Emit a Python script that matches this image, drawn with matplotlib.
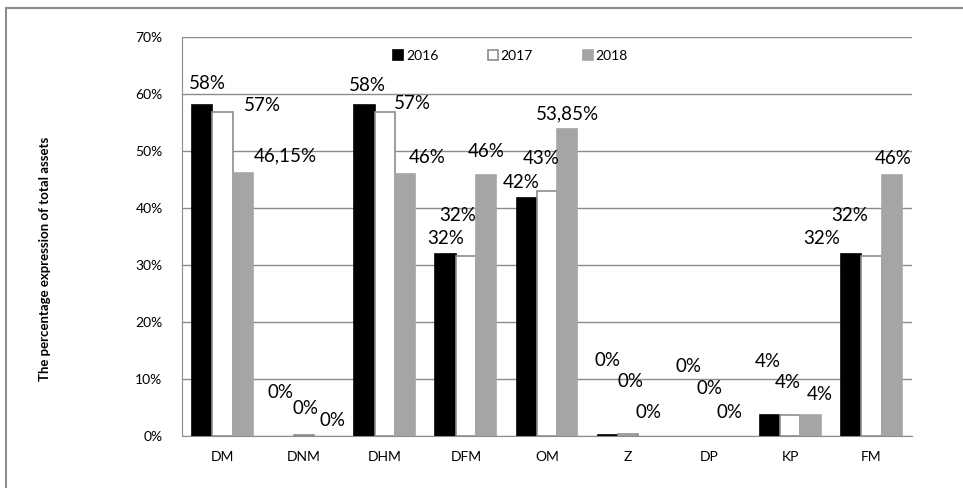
import numpy as np
import matplotlib.pyplot as plt
from matplotlib.patches import Rectangle
from matplotlib.ticker import PercentFormatter

plt.rcParams['font.family'] = ['Lato', 'DejaVu Sans']

categories = ['DM', 'DNM', 'DHM', 'DFM', 'OM', 'Z', 'DP', 'KP', 'FM']
years = ['2016', '2017', '2018']

v2016 = [58.0, 0.0, 58.0, 31.9, 41.7, 0.2, 0.0, 3.7, 31.9]
v2017 = [56.9, 0.15, 56.9, 31.6, 42.9, 0.4, 0.0, 3.7, 31.6]
v2018 = [46.15, 0.0, 46.0, 45.8, 53.85, 0.0, 0.0, 3.7, 45.8]

t2016 = ['58%', '0%', '58%', '32%', '42%', '0%', '0%', '4%', '32%']
t2017 = ['57%', '0%', '57%', '32%', '43%', '0%', '0%', '4%', '32%']
t2018 = ['46,15%', '0%', '46%', '46%', '53,85%', '0%', '0%', '4%', '46%']

# label offsets (pixels) from the top centre of each bar, as Excel left them
off2016 = [(5, 22), (-3, 43), (3, 20), (0, 16), (-6, 16), (0, 74), (0, 69), (-2, 53), (-30, 16)]
off2017 = [(40, 6), (2, 27), (28, 8), (-8, 40), (-6, 33), (2, 52), (0, 48), (-3, 32), (-22, 40)]
off2018 = [(42, 17), (9, 15), (22, 16), (0, 23), (0, 15), (0, 24), (0, 24), (9, 20), (1, 16)]

fig = plt.figure(figsize=(9.63, 4.88), dpi=100)
ax = fig.add_axes([182 / 963, 52 / 488, 730 / 963, 399 / 488])

fig.patches.append(Rectangle((6 / 963, -0.1), 1.2, (480 / 488) + 0.1, transform=fig.transFigure,
                             fill=False, edgecolor='#8c8c8c', linewidth=1.5))

x = np.arange(len(categories))
w = 0.25
series = [
    (v2016, t2016, off2016, 'black', 'black'),
    (v2017, t2017, off2017, 'white', '#8c8c8c'),
    (v2018, t2018, off2018, '#a5a5a5', '#a5a5a5'),
]

for i, (vals, texts, offs, fc, ec) in enumerate(series):
    pos = x + (i - 1) * w
    edges = [ec if v > 0 else 'none' for v in vals]
    ax.bar(pos, np.array(vals) / 100, w, color=fc, edgecolor=edges, linewidth=1.2,
           label=years[i], zorder=3)
    for px, v, t, o in zip(pos, vals, texts, offs):
        ax.annotate(t, (px, v / 100), xytext=o, textcoords='offset pixels',
                    ha='center', va='center', fontsize=13.5, zorder=4)

ax.set_xlim(-0.5, len(categories) - 0.5)
ax.set_ylim(0, 0.7)
ax.set_yticks(np.arange(0, 0.71, 0.1))
ax.yaxis.set_major_formatter(PercentFormatter(1.0, decimals=0))
ax.set_xticks(x)
ax.set_xticklabels(categories)
ax.grid(axis='y', color='#8c8c8c', linewidth=1, zorder=0)
for s in ['top', 'right']:
    ax.spines[s].set_visible(False)
ax.spines['left'].set_color('#8c8c8c')
ax.spines['bottom'].set_color('#8c8c8c')
ax.tick_params(axis='y', length=0, pad=14, labelsize=10)
ax.tick_params(axis='x', length=0, pad=11, labelsize=10)

fig.text(45 / 963, (488 - 259) / 488, 'The percentage expression of total assets',
         rotation=90, ha='center', va='center', fontsize=9.5, fontweight='bold')

ax.legend(loc='upper center', bbox_to_anchor=(0.45, 1.0), ncol=3, frameon=False,
          fontsize=10, handlelength=0.7, handleheight=0.7, columnspacing=3.6,
          handletextpad=0.2, borderaxespad=0.5)

fig.savefig('out.png', dpi=100)
